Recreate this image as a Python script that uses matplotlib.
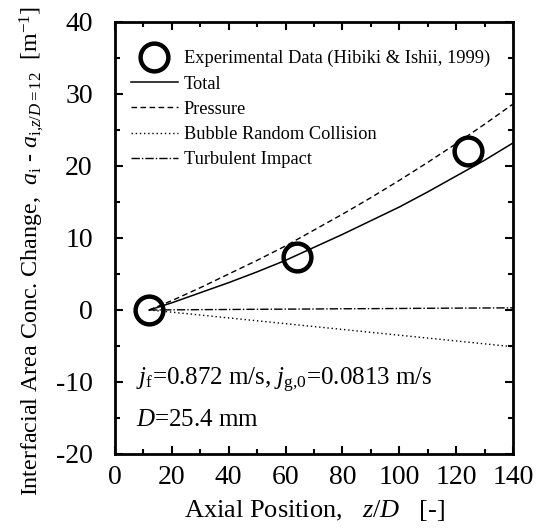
import numpy as np
import matplotlib
matplotlib.use("Agg")
import matplotlib.pyplot as plt
from matplotlib.ticker import MultipleLocator

plt.rcParams["font.family"] = ["Liberation Serif", "DejaVu Serif"]
plt.rcParams["mathtext.fontset"] = "custom"
plt.rcParams["mathtext.rm"] = "Liberation Serif"
plt.rcParams["mathtext.it"] = "Liberation Serif:italic"
plt.rcParams["axes.unicode_minus"] = False

# experimental data (Hibiki & Ishii, 1999)
exp_z = [12, 64, 124]
exp_a = [0.0, 7.4, 22.1]

# model curves
z_model = [12, 20, 30, 40, 50, 60, 70, 80, 90, 100, 110, 120, 130, 140]
total = [0.0, 1.0, 2.4, 3.8, 5.3, 6.9, 8.7, 10.5, 12.4, 14.3, 16.4, 18.6, 20.8, 23.2]
pressure = [0.0, 1.3, 3.1, 5.0, 6.9, 8.9, 11.1, 13.3, 15.6, 18.0, 20.5, 23.1, 25.8, 28.6]
random_coll = [0.0, -0.3, -0.7, -1.1, -1.5, -1.9, -2.3, -2.7, -3.1, -3.5, -3.9, -4.3, -4.7, -5.1]
turb_impact = [0.0, 0.02, 0.05, 0.07, 0.1, 0.12, 0.14, 0.17, 0.19, 0.21, 0.24, 0.26, 0.28, 0.3]

fig = plt.figure(figsize=(5.49, 5.30), dpi=100)
ax = fig.add_axes([0.2095, 0.1434, 0.7249, 0.8151])

ax.plot(exp_z, exp_a, "o", ms=20, mfc="none", mec="black", mew=3.2,
        label="Experimental Data (Hibiki & Ishii, 1999)", zorder=5, clip_on=False)
ax.plot(z_model, total, "-", color="black", lw=1.1, label="Total")
ax.plot(z_model, pressure, color="black", lw=1.0, dashes=(4, 2.5), label="Pressure")
ax.plot(z_model, random_coll, color="black", lw=1.0, dashes=(1, 2), label="Bubble Random Collision")
ax.plot(z_model, turb_impact, color="black", lw=1.0, dashes=(6, 1.5, 1, 1.5), label="Turbulent Impact")

ax.set_xlim(0, 140)
ax.set_ylim(-20, 40)
ax.xaxis.set_major_locator(MultipleLocator(20))
ax.xaxis.set_minor_locator(MultipleLocator(10))
ax.yaxis.set_major_locator(MultipleLocator(10))
ax.yaxis.set_minor_locator(MultipleLocator(5))
ax.tick_params(which="both", direction="in", top=True, right=True, width=1.5)
ax.tick_params(which="major", length=6, labelsize=20)
ax.tick_params(axis="x", which="major", pad=8)
ax.tick_params(axis="y", which="major", pad=16)
ax.tick_params(which="minor", length=3.5)
for s in ax.spines.values():
    s.set_linewidth(2)

ax.set_xlabel(r"Axial Position,   $z$/$D$   [-]", fontsize=19, labelpad=6)
ax.set_ylabel(r"Interfacial Area Conc. Change,  $a_{\rm i}$ - $a_{{\rm i}{,}z/D{\rm =12}}$  [m$^{-1}$]",
              fontsize=17.3)
ax.yaxis.set_label_coords(-0.173, 0.47)

ax.text(7.5, -9.8, r"$j_{\rm f}$=0.872 m/s, $j_{\rm g{,}0}$=0.0813 m/s", fontsize=18, va="center")
ax.text(7.5, -15.3, r"$D$=25.4 mm", fontsize=18, va="center")

ax.legend(loc="upper left", bbox_to_anchor=(0.007, 0.965), frameon=False, fontsize=13.2,
          handlelength=2.6, handletextpad=0.3, labelspacing=0.45, borderaxespad=0.3,
          markerscale=1.0)

fig.savefig("out.png", dpi=100)
